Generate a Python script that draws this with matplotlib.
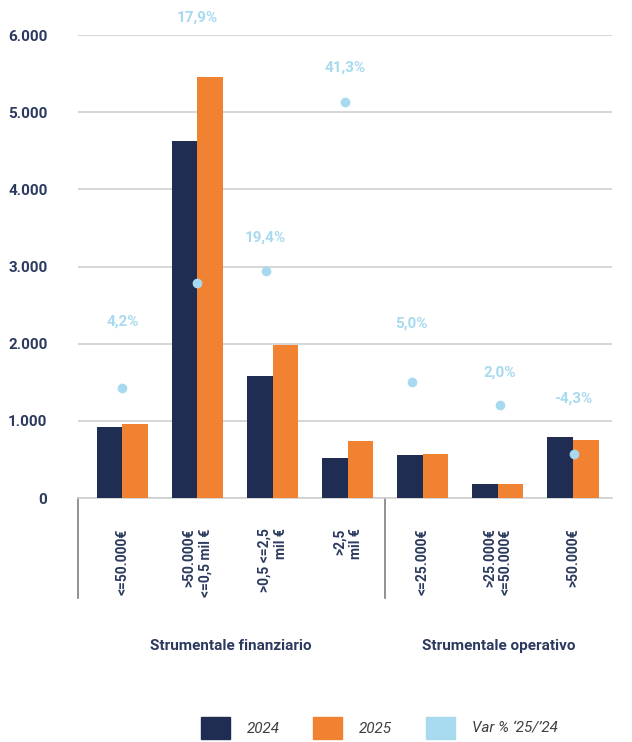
import matplotlib.pyplot as plt
import numpy as np
from matplotlib.patches import Patch
from matplotlib.transforms import offset_copy

# data
categories = [
    "<=50.000€",
    ">50.000€\n<=0,5 mil €",
    ">0,5 <=2,5\nmil €",
    ">2,5\nmil €",
    "<=25.000€",
    ">25.000€\n<=50.000€",
    ">50.000€",
]
groups = ["Strumentale finanziario", "Strumentale operativo"]
values_2024 = [920, 4625, 1580, 520, 555, 180, 790]
values_2025 = [960, 5455, 1985, 740, 565, 180, 755]
var_pct = [4.2, 17.9, 19.4, 41.3, 5.0, 2.0, -4.3]
y_ticks = [0, 1000, 2000, 3000, 4000, 5000, 6000]

# small horizontal nudges of the dots and label offsets above them (points)
dot_nudges = [0, 0, -5, -2, -8, 1.5, 0.5]
label_offsets = [48, 191, 24, 25, 42, 24, 40]

NAVY = "#1F2D52"
ORANGE = "#F08232"
LIGHT = "#A8DAEF"
TEXT = "#2B3A5E"
GRID = "#D0D0D0"

plt.rcParams["font.family"] = ["Roboto", "DejaVu Sans"]

fig = plt.figure(figsize=(6.32, 7.42), dpi=100)
ax = fig.add_axes([0.1234, 0.3288, 0.845, 0.624])

x = np.arange(len(categories))
w = 0.34
ax.bar(x - w / 2, values_2024, w, color=NAVY, zorder=3)
ax.bar(x + w / 2, values_2025, w, color=ORANGE, zorder=3)

ax.set_xlim(-0.59, 6.52)
ax.set_ylim(0, 6000)
ax.set_yticks(y_ticks)
ax.set_yticklabels([f"{v:,}".replace(",", ".") for v in y_ticks])
ax.grid(axis="y", color=GRID, linewidth=1.2, zorder=0)
for s in ["top", "right", "left"]:
    ax.spines[s].set_visible(False)
ax.spines["bottom"].set_color(GRID)
ax.spines["bottom"].set_linewidth(1.2)
ax.tick_params(axis="y", length=0, pad=22, labelsize=11, labelcolor=TEXT)
for t in ax.get_yticklabels():
    t.set_fontweight("bold")

ax.set_xticks(x)
ax.set_xticklabels(categories, rotation=90, fontsize=10, fontweight="bold",
                   color=TEXT, multialignment="right", va="top")
ax.tick_params(axis="x", length=0, pad=22)

# secondary axis for the percentage change
ax2 = ax.twinx()
ax2.set_ylim(-10, 50)
ax2.axis("off")
for xi, v, dx, off in zip(x, var_pct, dot_nudges, label_offsets):
    tr = offset_copy(ax2.transData, fig=fig, x=dx, y=0, units="points")
    ax2.plot([xi], [v], "o", markersize=6, color=LIGHT, transform=tr,
             zorder=4, clip_on=False)
    ax2.annotate(f"{v:.1f}%".replace(".", ","), (xi, v), xytext=(dx, off),
                 textcoords="offset points", ha="center", va="center",
                 fontsize=11, fontweight="bold", color=LIGHT,
                 annotation_clip=False)

# separator lines below the axis
trans = ax.get_xaxis_transform()
for xs in [-0.59, 3.5]:
    ax.plot([xs, xs], [0, -0.215], transform=trans, color="#7F7F7F",
            linewidth=1.2, clip_on=False)

ax.text(1.45, -0.32, groups[0], transform=trans, ha="center", va="center",
        fontsize=11, fontweight="bold", color=TEXT)
ax.text(5.01, -0.32, groups[1], transform=trans, ha="center", va="center",
        fontsize=11, fontweight="bold", color=TEXT)

handles = [Patch(color=NAVY), Patch(color=ORANGE), Patch(color=LIGHT)]
leg = fig.legend(handles, ["2024", "2025", "Var % ‘25/’24"],
                 loc="center", bbox_to_anchor=(0.6, 0.019), ncol=3,
                 frameon=False, handlelength=1.9, handleheight=1.9,
                 handletextpad=1.1, columnspacing=2.2, fontsize=11)
for t in leg.get_texts():
    t.set_fontstyle("italic")
    t.set_color("#404040")

fig.savefig("out.png", dpi=100)
